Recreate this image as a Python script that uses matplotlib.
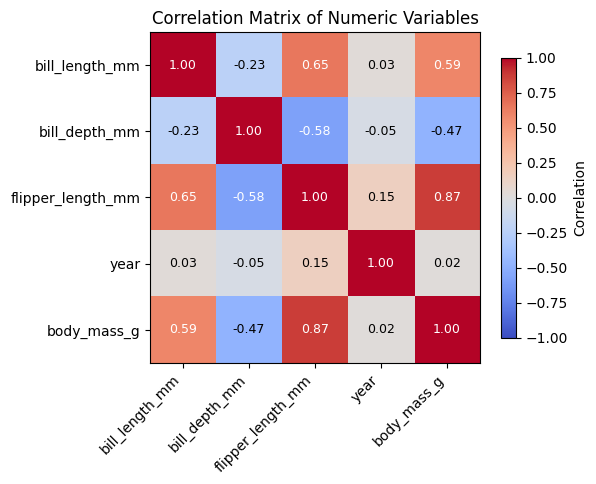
import numpy as np
import matplotlib
matplotlib.use("Agg")
import matplotlib.pyplot as plt

# Data
variables = ['bill_length_mm', 'bill_depth_mm', 'flipper_length_mm', 'year', 'body_mass_g']
corr = np.array([
    [1.00, -0.23, 0.65, 0.03, 0.59],
    [-0.23, 1.00, -0.58, -0.05, -0.47],
    [0.65, -0.58, 1.00, 0.15, 0.87],
    [0.03, -0.05, 0.15, 1.00, 0.02],
    [0.59, -0.47, 0.87, 0.02, 1.00],
])

fig = plt.figure(figsize=(5.96, 4.84), dpi=100)
ax = fig.add_axes([0.2517, 0.25, 0.5537, 0.684])
cax = fig.add_axes([0.8405, 0.3017, 0.0252, 0.5785])

im = ax.imshow(corr, cmap='coolwarm', vmin=-1, vmax=1, aspect='auto')

ax.set_xticks(np.arange(len(variables)))
ax.set_yticks(np.arange(len(variables)))
ax.set_xticklabels(variables, rotation=45, ha='right')
ax.set_yticklabels(variables)

# annotate cells
for i in range(len(variables)):
    for j in range(len(variables)):
        val = corr[i, j]
        color = 'white' if abs(val) > 0.5 else 'black'
        ax.text(j, i, f'{val:.2f}', ha='center', va='center', color=color, fontsize=9)

ax.set_title('Correlation Matrix of Numeric Variables', fontsize=12)

cbar = fig.colorbar(im, cax=cax)
cbar.set_label('Correlation')

fig.savefig('out.png', dpi=100)
